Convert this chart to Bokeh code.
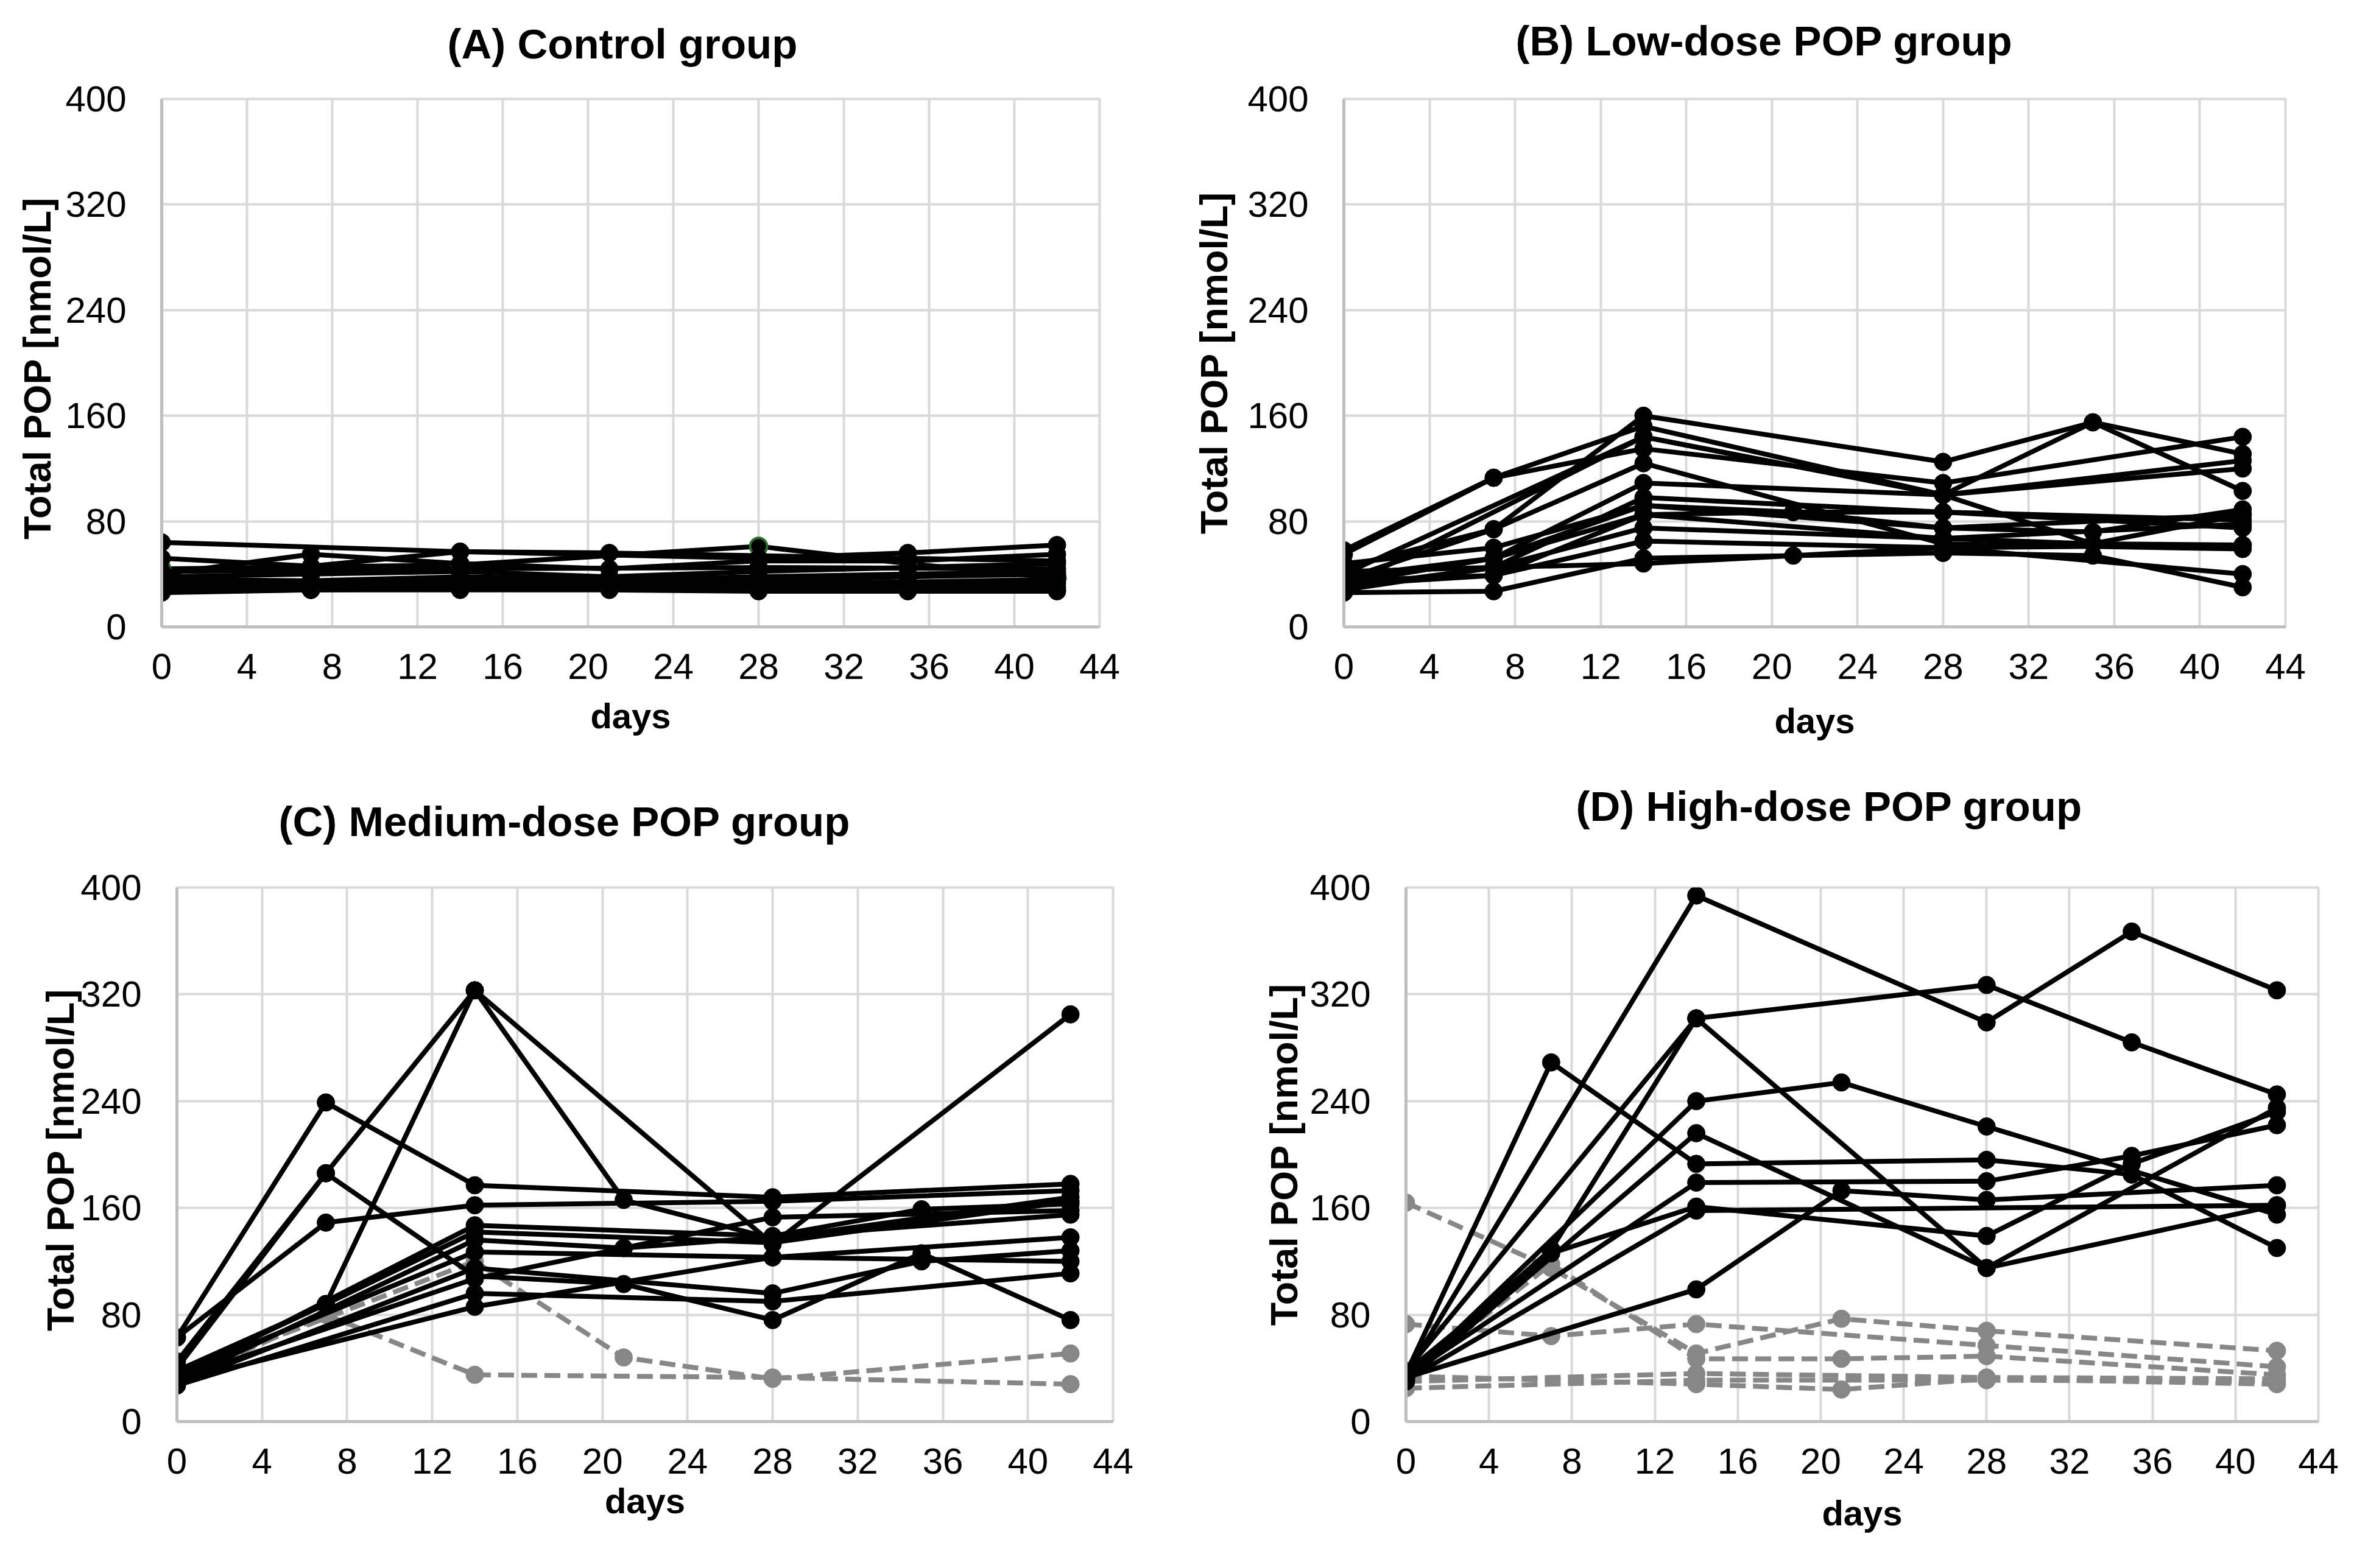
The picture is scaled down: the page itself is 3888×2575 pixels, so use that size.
from bokeh.plotting import figure
from bokeh.layouts import column, row
from bokeh.models import Range1d, Title
from bokeh.embed import file_html
from bokeh.resources import INLINE

# ---------------- data ----------------
days = [0, 7, 14, 21, 28, 35, 42]
x_ticks = [0, 4, 8, 12, 16, 20, 24, 28, 32, 36, 40, 44]
y_ticks = [0, 80, 160, 240, 320, 400]

# (A) Control group
control_black = [
    [64, None, 57, 56, None, None, 50],
    [52, 46, 57, None, 52, 56, 62],
    [40, 55, 48, 44, 50, 50, 55],
    [38, 40, 42, 38, 42, 45, 48],
    [36, 35, 38, 36, 38, 40, 42],
    [34, 33, 36, 34, 35, 38, 40],
    [32, 32, 34, 32, 33, 34, 36],
    [30, 31, 32, 31, 31, 32, 33],
    [28, 30, 30, 30, 29, 30, 30],
    [27, 28, 29, 29, 28, 28, 28],
    [26, 28, 28, 28, 27, 27, 27],
    [42, None, 44, None, 45, None, 44],
]
control_green = [
    [44, None, 47, None, 61, 48, 37],
]

# (B) Low-dose POP group
low_black = [
    [58, 113, 152, None, 100, 155, 131],
    [55, 113, 135, None, 109, None, 144],
    [45, 74, 160, None, 125, 155, 103],
    [40, None, 144, None, 100, None, 126],
    [36, 74, 124, None, 63, None, 59],
    [33, 52, 109, None, 100, None, 120],
    [30, 45, 98, None, 87, None, 81],
    [38, 52, 92, None, 75, 72, 89],
    [35, 39, 85, 87, 87, None, 75],
    [28, 45, 75, None, 67, 63, 62],
    [32, 39, 65, None, 60, None, 40],
    [26, 27, 52, 54, 56, 54, 30],
    [42, None, 48, None, 60, None, 62],
    [30, None, 144, None, 100, 63, 85],
    [34, 52, 85, None, 67, None, 78],
    [48, 60, 92, 87, 75, None, 85],
]

# (C) Medium-dose POP group
medium_black = [
    [63, 239, 177, None, 168, None, 178],
    [45, 186, 109, 103, 76, 126, 76],
    [40, 186, 323, None, 133, None, 305],
    [36, 88, 323, 166, 137, None, 168],
    [63, 149, 162, None, 165, None, 173],
    [33, None, 147, None, 139, 159, 163],
    [30, None, 136, 130, 153, None, 158],
    [35, None, 127, None, 123, None, 138],
    [28, None, 115, None, 96, 120, 128],
    [32, None, 107, 130, None, None, 155],
    [27, None, 96, None, 90, None, 111],
    [30, None, 86, None, 123, None, 120],
    [38, 88, 142, None, 134, None, 165],
]
medium_gray = [
    [30, 80, 35, None, 33, None, 28],
    [35, None, 120, 48, 32, None, 51],
]

# (D) High-dose POP group
high_black = [
    [35, None, 394, None, 299, 367, 323],
    [38, None, 302, None, 327, 284, 245],
    [33, 129, 302, None, 115, None, 235],
    [36, 269, 193, None, 196, 185, 130],
    [32, None, 240, 254, 221, None, 155],
    [30, None, 216, None, 115, None, 162],
    [34, None, 179, None, 180, 199, 222],
    [37, 126, 161, None, 139, 193, 232],
    [31, None, 158, None, None, None, 162],
    [33, None, 99, 173, 166, None, 177],
]
high_gray = [
    [164, 115, 51, 77, 68, None, 53],
    [73, 64, 73, None, 57, None, 41],
    [33, 118, 47, 47, 49, None, 35],
    [30, None, 36, None, 33, None, 32],
    [34, None, 28, 24, 32, None, 28],
    [25, None, 31, None, 31, None, 30],
]

# ---------------- styling ----------------
FONT = "Liberation Sans"
GRID = "#d9d9d9"
AXIS = "#bfbfbf"
GRAY = "#878787"
GREEN = "#2e6b2e"


def pts(series):
    xs = [d for d, v in zip(days, series) if v is not None]
    ys = [v for v in series if v is not None]
    return xs, ys


def make_panel(title, title_dx, title_gap, ylabel, ylab_standoff, xlab_standoff,
               black, gray, green, width, height, bl, br, bt, bb):
    p = figure(width=width, height=height,
               x_range=Range1d(0, 44), y_range=Range1d(0, 400),
               output_backend="svg", toolbar_location=None,
               min_border_left=bl, min_border_right=br,
               min_border_top=bt, min_border_bottom=bb)
    # spacer between frame and title
    p.add_layout(Title(text=" ", text_font_size="1px", standoff=title_gap), "above")
    p.title.text = title
    p.title.align = "left"
    p.title.offset = title_dx
    p.title.standoff = 0
    p.title.text_font = FONT
    p.title.text_font_size = "69px"
    p.title.text_font_style = "bold"
    p.title.text_color = "black"

    p.xaxis.ticker = x_ticks
    p.yaxis.ticker = y_ticks
    for ax in (p.xaxis[0], p.yaxis[0]):
        ax.axis_line_color = AXIS
        ax.axis_line_width = 5
        ax.major_tick_line_color = None
        ax.minor_tick_line_color = None
        ax.major_tick_in = 0
        ax.major_tick_out = 0
        ax.major_label_text_font = FONT
        ax.major_label_text_font_size = "60px"
        ax.major_label_text_color = "black"
        ax.axis_label_text_font = FONT
        ax.axis_label_text_font_style = "bold"
        ax.axis_label_text_color = "black"
    p.yaxis.major_label_standoff = 58
    p.xaxis.major_label_standoff = 44
    p.yaxis.axis_label = ylabel
    p.yaxis.axis_label_text_font_size = "63px"
    p.yaxis.axis_label_standoff = ylab_standoff
    p.xaxis.axis_label = "days"
    p.xaxis.axis_label_text_font_size = "58px"
    p.xaxis.axis_label_standoff = xlab_standoff

    p.xgrid.grid_line_color = GRID
    p.ygrid.grid_line_color = GRID
    p.xgrid.grid_line_width = 4
    p.ygrid.grid_line_width = 4
    p.outline_line_color = GRID
    p.outline_line_width = 4
    p.background_fill_color = "white"
    p.border_fill_color = "white"

    for s in gray:
        xs, ys = pts(s)
        p.line(xs, ys, line_color=GRAY, line_width=8, line_dash="26 12",
               line_join="round")
        p.scatter(xs, ys, size=29, fill_color=GRAY, line_color=GRAY)
    for s in green:
        xs, ys = pts(s)
        p.line(xs, ys, line_color="black", line_width=8, line_join="round")
        p.scatter(xs, ys, size=28, fill_color="black", line_color=GREEN,
                  line_width=4)
    for s in black:
        xs, ys = pts(s)
        p.line(xs, ys, line_color="black", line_width=8, line_join="round")
        p.scatter(xs, ys, size=29, fill_color="black", line_color="black")
    return p


pA = make_panel("(A) Control group", 469, 49, "Total POP  [nmol/L]", 8, 25,
                control_black, [], control_green,
                1936, 1252, 265, 131, 149, 223)
pB = make_panel("(B) Low-dose POP group", 282, 54, "Total POP [nmol/L]", 17, 33,
                low_black, [], [],
                1936, 1252, 270, 120, 162, 213)
pC = make_panel("(C) Medium-dose POP group", 167, 67, "Total  POP [nmol/L]", -5, 9,
                medium_black, medium_gray, [],
                1936, 1307, 290, 109, 203, 225)
pD = make_panel("(D) High-dose POP group", 279, 92, "Total POP [nmol/L]", 4, 29,
                high_black, high_gray, [],
                1936, 1307, 372, 66, 205, 225)

layout = column(row(pA, pB, spacing=0), row(pC, pD, spacing=0), spacing=0)
open("out.html", "w").write(file_html(layout, INLINE))
